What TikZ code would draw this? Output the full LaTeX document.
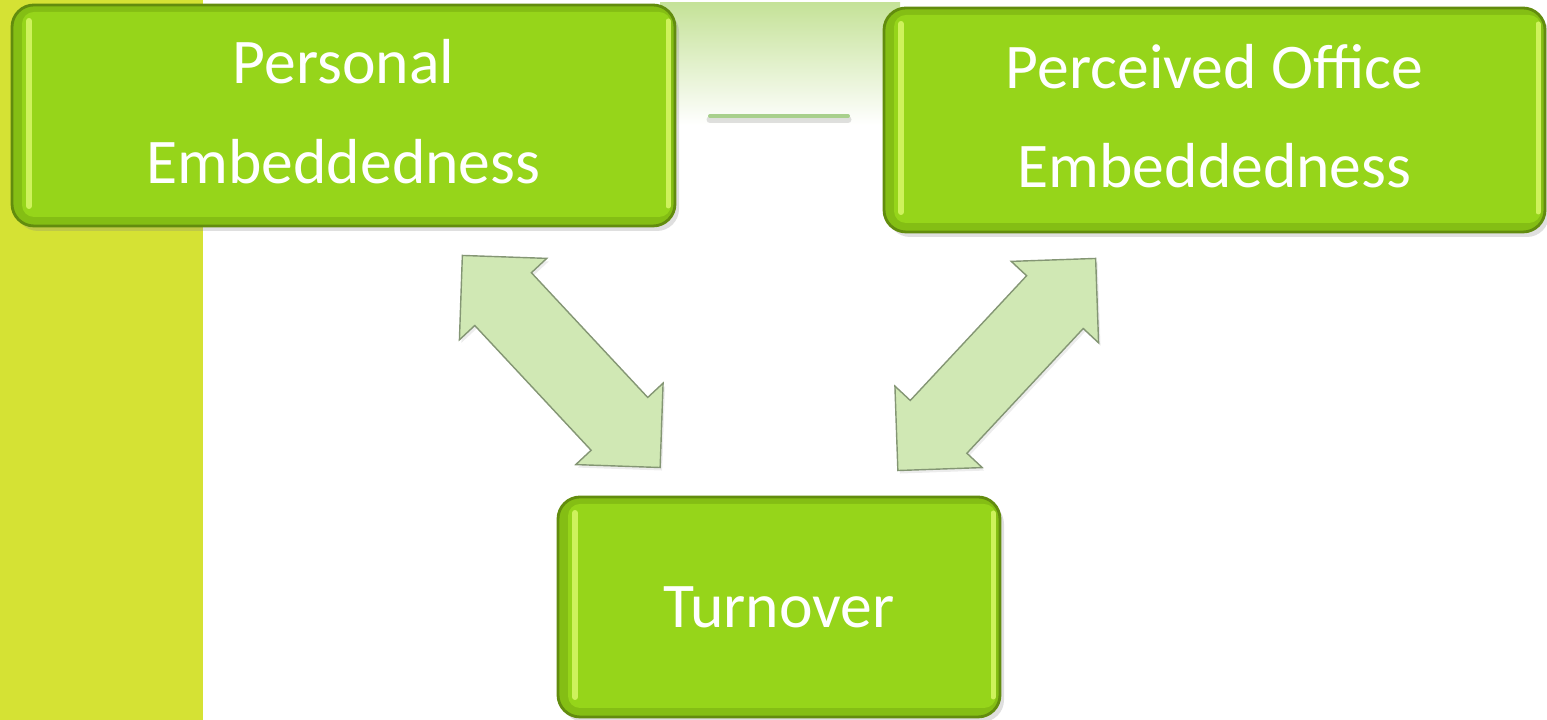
\documentclass[tikz,border=0pt]{standalone}
\usepackage{fontspec}
\setmainfont{Carlito}
\usetikzlibrary{shapes.arrows,shadows,calc}

\definecolor{bandyellow}{RGB}{213,226,52}
\definecolor{boxface}{RGB}{150,213,26}
\definecolor{boxrim}{RGB}{132,190,20}
\definecolor{boxedge}{RGB}{98,140,14}
\definecolor{boxshine}{RGB}{206,242,92}
\definecolor{arrowfill}{RGB}{208,232,180}
\definecolor{arrowedge}{RGB}{132,150,116}
\definecolor{linkgreen}{RGB}{168,208,140}
\definecolor{haze}{RGB}{197,226,152}

\newcommand{\boxfont}{\fontsize{18.1}{28.3}\selectfont}

\begin{document}
\begin{tikzpicture}[
  embbox/.style={rectangle, rounded corners=0.22cm, fill=boxrim, draw=boxedge,
    line width=0.8pt, inner sep=0pt, text=white, align=center, font=\boxfont,
    drop shadow={shadow xshift=0.04cm, shadow yshift=-0.05cm, opacity=0.25},
    path picture={
      \fill[boxface, rounded corners=0.12cm]
        ([shift={(0.1,-0.07)}]path picture bounding box.north west) rectangle
        ([shift={(-0.04,0.09)}]path picture bounding box.south east);
      \draw[boxshine, line width=0.06cm, line cap=round]
        ([shift={(0.17,-0.16)}]path picture bounding box.north west) --
        ([shift={(0.17,0.2)}]path picture bounding box.south west);
      \draw[boxshine, line width=0.05cm, line cap=round]
        ([shift={(-0.07,-0.16)}]path picture bounding box.north east) --
        ([shift={(-0.07,0.2)}]path picture bounding box.south east);
    }},
  blockarrow/.style={double arrow, fill=arrowfill, draw=arrowedge, line width=0.4pt,
    inner xsep=0pt, inner ysep=0.38cm, double arrow head extend=0.21cm,
    double arrow tip angle=90, minimum height=2.9cm,
    drop shadow={shadow xshift=0.02cm, shadow yshift=-0.03cm, opacity=0.15}}]

\useasboundingbox (0,0) rectangle (15.47,7.2);
\fill[bandyellow] (0,0) rectangle (2.03,7.2);
\shade[top color=haze, bottom color=white] (6.6,7.17) rectangle (9.0,5.95);

% the three boxes
\node[embbox, minimum width=6.63cm, minimum height=2.21cm, text depth=0.08cm]
  (pers) at (3.435,6.045) {Personal\\Embeddedness};
\node[embbox, minimum width=6.61cm, minimum height=2.24cm, text depth=0.08cm]
  (pobe) at (12.145,6.0) {Perceived Office\\Embeddedness};
\node[embbox, minimum width=4.42cm, minimum height=2.2cm] (turn) at (7.79,1.13)
  {Turnover};

% link between the two embeddedness boxes
\coordinate (ll) at (7.1,6.04);
\coordinate (lr) at (8.48,6.04);
\draw[black, opacity=0.12, line width=0.07cm, line cap=round]
  ([yshift=-0.04cm]ll) -- ([yshift=-0.04cm]lr);
\draw[linkgreen, line width=0.04cm, line cap=round] (ll) -- (lr);

% two-way arrows to turnover
\node[blockarrow, rotate=-47] (pt) at ($(pers.south)!0.5!(turn.north)$) {};
\node[blockarrow, rotate=47] (ot) at ($(pobe.south)!0.5!(turn.north)$) {};
\end{tikzpicture}
\end{document}
